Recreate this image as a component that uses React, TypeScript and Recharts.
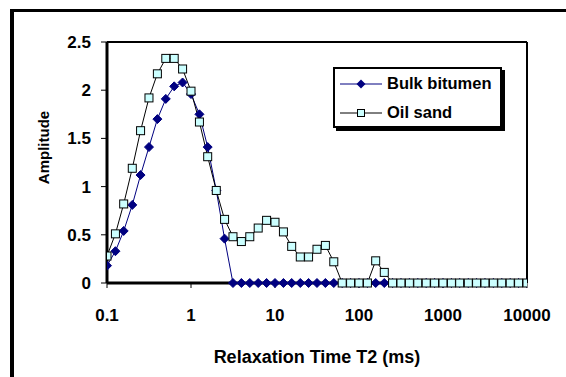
import { LineChart, Line, XAxis, YAxis, ReferenceLine, Legend } from 'recharts';

const times = [
  0.1, 0.126, 0.158, 0.2, 0.251, 0.316, 0.398, 0.501, 0.631, 0.794,
  1, 1.26, 1.58, 2, 2.51, 3.16, 3.98, 5.01, 6.31, 7.94,
  10, 12.6, 15.8, 20, 25.1, 31.6, 39.8, 50.1, 63.1, 79.4,
  100, 126, 158, 200, 251, 316, 398, 501, 631, 794,
  1000, 1260, 1580, 2000, 2510, 3160, 3980, 5010, 6310, 7940,
  10000,
];

const bitumen = [
  0.18, 0.33, 0.54, 0.81, 1.12, 1.41, 1.7, 1.91, 2.04, 2.08,
  1.96, 1.75, 1.41, 0.96, 0.46, 0, 0, 0, 0, 0,
  0, 0, 0, 0, 0, 0, 0, 0, 0, 0,
  0, 0, 0, 0, 0, 0, 0, 0, 0, 0,
  0, 0, 0, 0, 0, 0, 0, 0, 0, 0,
  0,
];

const oilSand = [
  0.28, 0.51, 0.82, 1.19, 1.58, 1.92, 2.17, 2.33, 2.33, 2.22,
  1.99, 1.67, 1.31, 0.96, 0.66, 0.48, 0.43, 0.48, 0.57, 0.65,
  0.63, 0.53, 0.38, 0.27, 0.27, 0.35, 0.39, 0.22, 0, 0,
  0, 0, 0.23, 0.11, 0, 0, 0, 0, 0, 0,
  0, 0, 0, 0, 0, 0, 0, 0, 0, 0,
  0,
];

const xTicks = [0.1, 1, 10, 100, 1000, 10000];
const yTicks = [0, 0.5, 1, 1.5, 2, 2.5];

const data = times.map((t, i) => ({ t, bitumen: bitumen[i], oil: oilSand[i] }));

const FONT = '"Liberation Sans", Arial, sans-serif';
const NAVY = '#000080';
const CYAN = '#CCFFFF';

const Diamond = (props: any) => {
  const { cx, cy, index } = props;
  if (cx == null || cy == null) return <g key={`d-${index}`} />;
  const r = 4.5;
  return (
    <polygon
      key={`d-${index}`}
      points={`${cx},${cy - r} ${cx + r},${cy} ${cx},${cy + r} ${cx - r},${cy}`}
      fill={NAVY}
      stroke={NAVY}
      strokeWidth={1}
    />
  );
};

const Square = (props: any) => {
  const { cx, cy, index } = props;
  if (cx == null || cy == null) return <g key={`s-${index}`} />;
  return (
    <rect key={`s-${index}`} x={cx - 4} y={cy - 4} width={8} height={8} fill={CYAN} stroke="#000" strokeWidth={1} />
  );
};

const YTitle = (props: any) => {
  const { viewBox } = props;
  const x = 43;
  const y = viewBox.y + viewBox.height / 2 - 15;
  return (
    <text x={x} y={y} transform={`rotate(-90 ${x} ${y})`} textAnchor="middle" dominantBaseline="central"
      fontFamily={FONT} fontWeight="bold" fontSize={15} fill="#000">
      Amplitude
    </text>
  );
};

const LegendBox = () => {
  const rows = [
    { name: 'Bulk bitumen', color: NAVY, marker: 'diamond' },
    { name: 'Oil sand', color: '#000', marker: 'square' },
  ];
  return (
    <div style={{
      width: 169, height: 61, boxSizing: 'border-box', border: '2px solid #000', boxShadow: '3px 3px 0 #000',
      background: '#fff', fontFamily: FONT, fontWeight: 'bold', fontSize: 16.5, color: '#000',
    }}>
      {rows.map((r) => (
        <div key={r.name} style={{ height: 29, display: 'flex', alignItems: 'center', whiteSpace: 'nowrap' }}>
          <svg width={52} height={14} style={{ display: 'block', flex: 'none' }}>
            <line x1={5} y1={7} x2={47} y2={7} stroke={r.color} strokeWidth={1} />
            {r.marker === 'diamond'
              ? <polygon points="26,2.5 30.5,7 26,11.5 21.5,7" fill={NAVY} />
              : <rect x={22.5} y={3.5} width={7} height={7} fill={CYAN} stroke="#000" strokeWidth={1} />}
          </svg>
          <span>{r.name}</span>
        </div>
      ))}
    </div>
  );
};

export default function App() {
  return (
    <div style={{ position: 'absolute', left: 0, top: 0, width: 566, height: 377, background: '#fff', overflow: 'hidden' }}>
      <div style={{
        position: 'absolute', left: 10, top: 9, width: 700, height: 500,
        borderLeft: '4px solid #000', borderTop: '3px solid #000',
      }} />
      <div style={{ position: 'absolute', left: 0, top: 0 }}>
        <LineChart width={566} height={377} data={data} margin={{ top: 42, right: 39, bottom: 0, left: 0 }}>
          <XAxis
            dataKey="t"
            type="number"
            scale="log"
            domain={[0.1, 10000]}
            ticks={xTicks}
            allowDataOverflow
            height={94}
            axisLine={{ stroke: '#000', strokeWidth: 3 }}
            tickLine={{ stroke: '#000', strokeWidth: 1 }}
            tickSize={5}
            tickMargin={21}
            tick={{ fill: '#000', fontFamily: FONT, fontWeight: 'bold', fontSize: 17 }}
            label={{ value: 'Relaxation Time T2 (ms)', position: 'insideBottom', offset: 14, fill: '#000', fontFamily: FONT, fontWeight: 'bold', fontSize: 18 }}
          />
          <YAxis
            type="number"
            domain={[0, 2.5]}
            ticks={yTicks}
            width={107}
            axisLine={{ stroke: '#000', strokeWidth: 3 }}
            tickLine={{ stroke: '#000', strokeWidth: 1 }}
            tickSize={6}
            tickMargin={10}
            tick={{ fill: '#000', fontFamily: FONT, fontWeight: 'bold', fontSize: 17 }}
            label={<YTitle />}
          />
          <ReferenceLine y={2.5} stroke="#000" strokeWidth={2} />
          <ReferenceLine x={10000} stroke="#000" strokeWidth={2} />
          <Legend
            layout="vertical"
            align="center"
            verticalAlign="middle"
            content={<LegendBox />}
            wrapperStyle={{ left: 333, top: 67, width: 172, height: 64 }}
          />
          <Line dataKey="bitumen" name="Bulk bitumen" stroke={NAVY} strokeWidth={1} dot={<Diamond />} isAnimationActive={false} />
          <Line dataKey="oil" name="Oil sand" stroke="#000" strokeWidth={1} dot={<Square />} isAnimationActive={false} />
        </LineChart>
      </div>
    </div>
  );
}
